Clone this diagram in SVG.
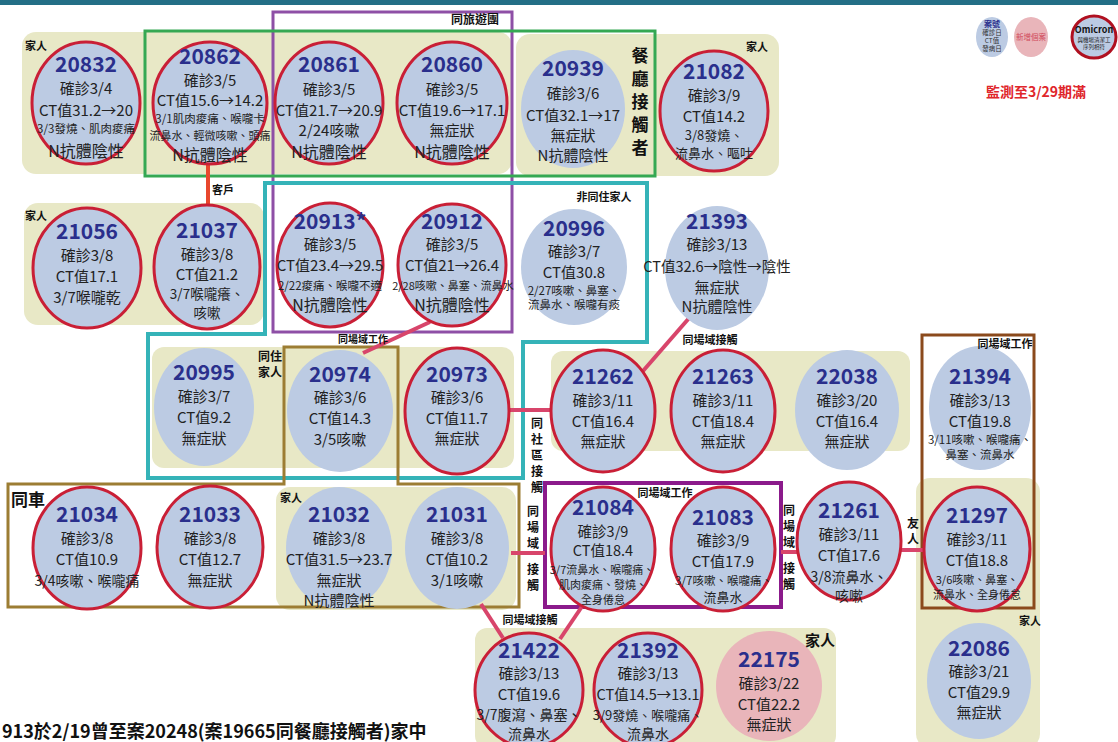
<svg xmlns="http://www.w3.org/2000/svg" width="1118" height="742" viewBox="0 0 1118 742">
<style>
text{font-family:"Noto Sans CJK TC","Noto Sans",sans-serif}
.bg{fill:#e8e8c6}
.e{fill:#bccbe3}
.r{stroke:#c91f36;stroke-width:3}
.pk{fill:#e9b5ba}
.num{font-size:21px;font-weight:bold;fill:#2a2f8c;text-anchor:middle}
.t{font-size:15px;fill:#222;text-anchor:middle}
.s{font-size:12px;fill:#222;text-anchor:middle}
.n16{font-size:16px;fill:#222;text-anchor:middle}
.lb{font-size:11px;font-weight:bold;fill:#111;text-anchor:middle}
.vl{font-size:12px;font-weight:bold;fill:#111;text-anchor:middle}
.fr{fill:none}
.cn{stroke:#d8456b;stroke-width:4;fill:none}
</style>
<rect x="0" y="0" width="1118" height="5" fill="#236f86"/>

<g id="backgrounds">
<rect class="bg" x="22" y="32" width="490" height="142" rx="14"/>
<rect class="bg" x="516" y="34" width="263" height="142" rx="14"/>
<rect class="bg" x="24" y="203" width="240" height="122" rx="14"/>
<rect class="bg" x="152" y="347" width="362" height="121" rx="12"/>
<rect class="bg" x="551" y="351" width="359" height="100" rx="12"/>
<rect class="bg" x="276" y="487" width="240" height="123" rx="14"/>
<rect class="bg" x="916" y="478" width="124" height="270" rx="14"/>
<rect class="bg" x="475" y="628" width="361" height="120" rx="12"/>
</g>

<g id="frames">
<rect class="fr" x="273" y="12" width="239" height="320" stroke="#8e4fa6" stroke-width="3"/>
<rect class="fr" x="145" y="31" width="510" height="145" stroke="#35a853" stroke-width="3"/>
<polygon class="fr" points="265,183 647,183 647,342 523,342 523,478 148,478 148,334 265,334" stroke="#35b3b8" stroke-width="4"/>
<polygon class="fr" points="284,347 398,347 398,484 519,484 519,607 8,607 8,484 284,484" stroke="#9c7d33" stroke-width="3"/>
<rect class="fr" x="922" y="335" width="112" height="273" stroke="#8b4a1c" stroke-width="3"/>
<rect class="fr" x="545" y="483" width="236" height="124" stroke="#8b1a8b" stroke-width="4"/>
</g>

<g id="connectors">
<line x1="208" y1="164" x2="208" y2="206" stroke="#e8472d" stroke-width="4"/>
<line class="cn" x1="430" y1="322" x2="363" y2="353"/>
<line class="cn" x1="690" y1="317" x2="643" y2="371"/>
<line class="cn" x1="509" y1="410" x2="552" y2="410"/>
<line class="cn" x1="511" y1="553" x2="545" y2="553"/>
<line class="cn" x1="781" y1="552" x2="798" y2="552"/>
<line class="cn" x1="900" y1="550" x2="925" y2="550"/>
<line class="cn" x1="481" y1="604" x2="503" y2="638"/>
<line class="cn" x1="583" y1="605" x2="560" y2="639"/>
</g>

<g id="n20832"><ellipse class="e r" cx="86" cy="103" rx="54" ry="61"/>
<text class="num" x="86" y="72">20832</text><text class="t" x="86" y="94">確診3/4</text><text class="t" x="86" y="116">CT值31.2→20</text><text class="s" x="86" y="133" style="font-size:11.5px">3/3發燒、肌肉痠痛</text><text class="n16" x="86" y="157">N抗體陰性</text></g>

<g id="n20862"><ellipse class="e r" cx="210" cy="103" rx="57" ry="61"/>
<text class="num" x="210" y="64">20862</text><text class="t" x="210" y="86">確診3/5</text><text class="t" x="210" y="106">CT值15.6→14.2</text><text class="s" x="210" y="123" style="font-size:11.5px">3/1肌肉痠痛、喉嚨卡</text><text class="s" x="210" y="140" style="font-size:11px">流鼻水、輕微咳嗽、頭痛</text><text class="n16" x="210" y="161">N抗體陰性</text></g>

<g id="n20861"><ellipse class="e r" cx="329" cy="103" rx="54" ry="61"/>
<text class="num" x="329" y="72">20861</text><text class="t" x="329" y="95">確診3/5</text><text class="t" x="329" y="116">CT值21.7→20.9</text><text class="t" x="329" y="136">2/24咳嗽</text><text class="n16" x="329" y="158">N抗體陰性</text></g>

<g id="n20860"><ellipse class="e r" cx="452" cy="103" rx="55" ry="61"/>
<text class="num" x="452" y="72">20860</text><text class="t" x="452" y="95">確診3/5</text><text class="t" x="452" y="116">CT值19.6→17.1</text><text class="t" x="452" y="136">無症狀</text><text class="n16" x="452" y="158">N抗體陰性</text></g>

<g id="n20939"><ellipse class="e" cx="573" cy="109" rx="52" ry="59"/>
<text class="num" x="573" y="76">20939</text><text class="t" x="573" y="99">確診3/6</text><text class="t" x="573" y="121">CT值32.1→17</text><text class="t" x="573" y="141">無症狀</text><text class="t" x="573" y="161">N抗體陰性</text></g>

<g id="n21082"><ellipse class="e r" cx="714" cy="111" rx="54" ry="60"/>
<text class="num" x="714" y="79">21082</text><text class="t" x="714" y="101">確診3/9</text><text class="t" x="714" y="122">CT值14.2</text><text class="s" x="714" y="140" style="font-size:13px">3/8發燒、</text><text class="s" x="714" y="158" style="font-size:13px">流鼻水、嘔吐</text></g>

<g id="n21056"><ellipse class="e r" cx="87" cy="268" rx="54" ry="60"/>
<text class="num" x="87" y="239">21056</text><text class="t" x="87" y="261">確診3/8</text><text class="t" x="87" y="282">CT值17.1</text><text class="t" x="87" y="303">3/7喉嚨乾</text></g>

<g id="n21037"><ellipse class="e r" cx="207" cy="267" rx="53" ry="62"/>
<text class="num" x="207" y="238">21037</text><text class="t" x="207" y="260">確診3/8</text><text class="t" x="207" y="280">CT值21.2</text><text class="t" x="207" y="299" style="font-size:13.5px">3/7喉嚨癢、</text><text class="t" x="207" y="318" style="font-size:13.5px">咳嗽</text></g>

<g id="n20913"><ellipse class="e r" cx="330" cy="265" rx="53" ry="62"/>
<text class="num" x="330" y="229">20913*</text><text class="t" x="330" y="250">確診3/5</text><text class="t" x="330" y="271">CT值23.4→29.5</text><text class="s" x="330" y="290" style="font-size:11.5px">2/22痠痛、喉嚨不適</text><text class="n16" x="330" y="311">N抗體陰性</text></g>

<g id="n20912"><ellipse class="e r" cx="452" cy="265" rx="54" ry="61"/>
<text class="num" x="452" y="229">20912</text><text class="t" x="452" y="250">確診3/5</text><text class="t" x="452" y="271">CT值21→26.4</text><text class="s" x="453" y="290" style="font-size:11px">2/28咳嗽、鼻塞、流鼻水</text><text class="n16" x="452" y="311">N抗體陰性</text></g>

<g id="n20996"><ellipse class="e" cx="574" cy="267" rx="53" ry="58"/>
<text class="num" x="574" y="236">20996</text><text class="t" x="574" y="257">確診3/7</text><text class="t" x="574" y="278">CT值30.8</text><text class="s" x="574" y="295" style="font-size:11.5px">2/27咳嗽、鼻塞、</text><text class="s" x="574" y="309" style="font-size:11.5px">流鼻水、喉嚨有痰</text></g>

<g id="n21393"><ellipse class="e" cx="717" cy="268" rx="52" ry="62"/>
<text class="num" x="717" y="229">21393</text><text class="t" x="717" y="250">確診3/13</text><text class="t" x="717" y="272" style="font-size:14.5px">CT值32.6→陰性→陰性</text><text class="t" x="717" y="293">無症狀</text><text class="t" x="717" y="312">N抗體陰性</text></g>

<g id="n20995"><ellipse class="e" cx="204" cy="407" rx="50" ry="59"/>
<text class="num" x="204" y="380">20995</text><text class="t" x="204" y="402">確診3/7</text><text class="t" x="204" y="423">CT值9.2</text><text class="t" x="204" y="444">無症狀</text></g>

<g id="n20974"><ellipse class="e" cx="340" cy="411" rx="53" ry="61"/>
<text class="num" x="340" y="382">20974</text><text class="t" x="340" y="403">確診3/6</text><text class="t" x="340" y="424">CT值14.3</text><text class="t" x="340" y="445">3/5咳嗽</text></g>

<g id="n20973"><ellipse class="e r" cx="457" cy="411" rx="52" ry="63"/>
<text class="num" x="457" y="382">20973</text><text class="t" x="457" y="403">確診3/6</text><text class="t" x="457" y="424">CT值11.7</text><text class="t" x="457" y="444">無症狀</text></g>

<g id="n21262"><ellipse class="e r" cx="603" cy="411" rx="52" ry="61"/>
<text class="num" x="603" y="384">21262</text><text class="t" x="603" y="406">確診3/11</text><text class="t" x="603" y="427">CT值16.4</text><text class="t" x="603" y="447">無症狀</text></g>

<g id="n21263"><ellipse class="e r" cx="723" cy="411" rx="52" ry="61"/>
<text class="num" x="723" y="384">21263</text><text class="t" x="723" y="406">確診3/11</text><text class="t" x="723" y="427">CT值18.4</text><text class="t" x="723" y="447">無症狀</text></g>

<g id="n22038"><ellipse class="e" cx="847" cy="410" rx="52" ry="60"/>
<text class="num" x="847" y="384">22038</text><text class="t" x="847" y="406">確診3/20</text><text class="t" x="847" y="427">CT值16.4</text><text class="t" x="847" y="447">無症狀</text></g>

<g id="n21394"><ellipse class="e" cx="980" cy="408" rx="51" ry="62"/>
<text class="num" x="980" y="384">21394</text><text class="t" x="980" y="406">確診3/13</text><text class="t" x="980" y="427">CT值19.8</text><text class="s" x="980" y="444" style="font-size:11.5px">3/11咳嗽、喉嚨痛、</text><text class="s" x="980" y="459" style="font-size:11.5px">鼻塞、流鼻水</text></g>

<g id="n21034"><ellipse class="e r" cx="87" cy="548" rx="54" ry="61"/>
<text class="num" x="87" y="522">21034</text><text class="t" x="87" y="544">確診3/8</text><text class="t" x="87" y="565">CT值10.9</text><text class="t" x="87" y="586" style="font-size:14px">3/4咳嗽、喉嚨痛</text></g>

<g id="n21033"><ellipse class="e r" cx="210" cy="547" rx="53" ry="61"/>
<text class="num" x="210" y="522">21033</text><text class="t" x="210" y="544">確診3/8</text><text class="t" x="210" y="565">CT值12.7</text><text class="t" x="210" y="586">無症狀</text></g>

<g id="n21032"><ellipse class="e" cx="339" cy="548" rx="53" ry="61"/>
<text class="num" x="339" y="522">21032</text><text class="t" x="339" y="544">確診3/8</text><text class="t" x="339" y="565">CT值31.5→23.7</text><text class="t" x="339" y="586">無症狀</text><text class="t" x="339" y="606">N抗體陰性</text></g>

<g id="n21031"><ellipse class="e" cx="457" cy="548" rx="52" ry="61"/>
<text class="num" x="457" y="522">21031</text><text class="t" x="457" y="544">確診3/8</text><text class="t" x="457" y="565">CT值10.2</text><text class="t" x="457" y="586">3/1咳嗽</text></g>

<g id="n21084"><ellipse class="e r" cx="603" cy="549" rx="52" ry="62"/>
<text class="num" x="603" y="515">21084</text><text class="t" x="603" y="537" style="font-size:14.5px">確診3/9</text><text class="t" x="603" y="556" style="font-size:14.5px">CT值18.4</text><text class="s" x="602" y="574" style="font-size:11px">3/7流鼻水、喉嚨痛、</text><text class="s" x="603" y="589" style="font-size:11px">肌肉痠痛、發燒、</text><text class="s" x="603" y="604" style="font-size:11px">全身倦怠</text></g>

<g id="n21083"><ellipse class="e r" cx="723" cy="549" rx="52" ry="62"/>
<text class="num" x="723" y="525">21083</text><text class="t" x="723" y="546">確診3/9</text><text class="t" x="723" y="567">CT值17.9</text><text class="s" x="724" y="585" style="font-size:11.5px">3/7咳嗽、喉嚨痛、</text><text class="s" x="723" y="602" style="font-size:13px">流鼻水</text></g>

<g id="n21261"><ellipse class="e r" cx="849" cy="541" rx="52" ry="59"/>
<text class="num" x="849" y="518">21261</text><text class="t" x="849" y="540">確診3/11</text><text class="t" x="849" y="561">CT值17.6</text><text class="t" x="849" y="582" style="font-size:14px">3/8流鼻水、</text><text class="t" x="849" y="601" style="font-size:14px">咳嗽</text></g>

<g id="n21297"><ellipse class="e r" cx="977" cy="549" rx="53" ry="62"/>
<text class="num" x="977" y="523">21297</text><text class="t" x="977" y="545">確診3/11</text><text class="t" x="977" y="566">CT值18.8</text><text class="s" x="977" y="584" style="font-size:11px">3/6咳嗽、鼻塞、</text><text class="s" x="977" y="599" style="font-size:11px">流鼻水、全身倦怠</text></g>

<g id="n21422"><ellipse class="e r" cx="529" cy="690" rx="54" ry="57"/>
<text class="num" x="529" y="658">21422</text><text class="t" x="529" y="679">確診3/13</text><text class="t" x="529" y="700">CT值19.6</text><text class="t" x="529" y="720" style="font-size:14px">3/7腹瀉、鼻塞、</text><text class="t" x="529" y="739" style="font-size:14px">流鼻水</text></g>

<g id="n21392"><ellipse class="e r" cx="648" cy="690" rx="54" ry="57"/>
<text class="num" x="648" y="658">21392</text><text class="t" x="648" y="679">確診3/13</text><text class="t" x="648" y="700" style="font-size:14.5px">CT值14.5→13.1</text><text class="t" x="648" y="720" style="font-size:13px">3/9發燒、喉嚨痛、</text><text class="t" x="648" y="739" style="font-size:14px">流鼻水</text></g>

<g id="n22175"><ellipse class="pk" cx="769" cy="686" rx="53" ry="55"/>
<text class="num" x="769" y="667">22175</text><text class="t" x="769" y="689">確診3/22</text><text class="t" x="769" y="710">CT值22.2</text><text class="t" x="769" y="730">無症狀</text></g>

<g id="n22086"><ellipse class="e" cx="979" cy="681" rx="52" ry="58"/>
<text class="num" x="979" y="656">22086</text><text class="t" x="979" y="677">確診3/21</text><text class="t" x="979" y="698">CT值29.9</text><text class="t" x="979" y="718">無症狀</text></g>

<g id="labels">
<text class="lb" x="475" y="24" style="font-size:12px">同旅遊團</text>
<text class="lb" x="36" y="50">家人</text>
<text class="lb" x="757" y="51">家人</text>
<text style="font-size:17px;font-weight:bold;fill:#111;text-anchor:middle"><tspan x="640" y="62">餐</tspan><tspan x="640" y="85">廳</tspan><tspan x="640" y="108">接</tspan><tspan x="640" y="131">觸</tspan><tspan x="640" y="154">者</tspan></text>
<text class="lb" x="223" y="194">客戶</text>
<text class="lb" x="36" y="220">家人</text>
<text class="lb" x="604" y="201">非同住家人</text>
<text class="lb" x="710" y="344">同場域接觸</text>
<text class="lb" x="363" y="343" style="font-size:10px">同場域工作</text>
<text class="vl" x="270" y="361">同住</text>
<text class="vl" x="270" y="377">家人</text>
<text class="lb" x="1005" y="348">同場域工作</text>
<text class="vl"><tspan x="537" y="428">同</tspan><tspan x="537" y="444">社</tspan><tspan x="537" y="460">區</tspan><tspan x="537" y="476">接</tspan><tspan x="537" y="492">觸</tspan></text>
<text x="28" y="506" style="font-size:17px;font-weight:bold;fill:#111;text-anchor:middle">同車</text>
<text class="lb" x="291" y="502">家人</text>
<text class="lb" x="665" y="497">同場域工作</text>
<text class="vl"><tspan x="533" y="516">同</tspan><tspan x="533" y="532">場</tspan><tspan x="533" y="548">域</tspan><tspan x="533" y="574">接</tspan><tspan x="533" y="590">觸</tspan></text>
<text class="vl"><tspan x="789" y="515">同</tspan><tspan x="789" y="531">場</tspan><tspan x="789" y="547">域</tspan><tspan x="789" y="573">接</tspan><tspan x="789" y="589">觸</tspan></text>
<text class="vl"><tspan x="913" y="528">友</tspan><tspan x="913" y="544">人</tspan></text>
<text class="lb" x="530" y="624">同場域接觸</text>
<text class="lb" x="820" y="646" style="font-size:15px">家人</text>
<text class="lb" x="1030" y="625">家人</text>
<text x="2" y="738" style="font-size:18px;font-weight:bold;fill:#111">913於2/19曾至案20248(案19665同餐廳接觸者)家中</text>
</g>

<g id="legend">
<ellipse class="e" cx="992" cy="37" rx="16" ry="20"/>
<text x="992" y="27" style="font-size:8px;font-weight:bold;fill:#2a2f8c;text-anchor:middle">案號</text>
<text x="992" y="35" style="font-size:6.5px;fill:#333;text-anchor:middle">確診日</text>
<text x="992" y="43" style="font-size:6.5px;fill:#333;text-anchor:middle">CT值</text>
<text x="992" y="51" style="font-size:6.5px;fill:#333;text-anchor:middle">發病日</text>
<ellipse class="pk" cx="1031" cy="37" rx="17" ry="20"/>
<text x="1031" y="40" style="font-size:7.5px;fill:#d04a5a;text-anchor:middle">新增個案</text>
<ellipse class="e" cx="1094" cy="37" rx="22" ry="21" stroke="#b01020" stroke-width="3"/>
<text x="1094" y="33" style="font-size:9px;font-weight:bold;fill:#111;text-anchor:middle">Omicron</text>
<text x="1094" y="42" style="font-size:5.5px;fill:#222;text-anchor:middle">與機場清潔工</text>
<text x="1094" y="49" style="font-size:5.5px;fill:#222;text-anchor:middle">序列相符</text>
<text x="1036" y="97" style="font-size:14px;font-weight:bold;fill:#e0262b;text-anchor:middle">監測至3/29期滿</text>
</g>
</svg>
